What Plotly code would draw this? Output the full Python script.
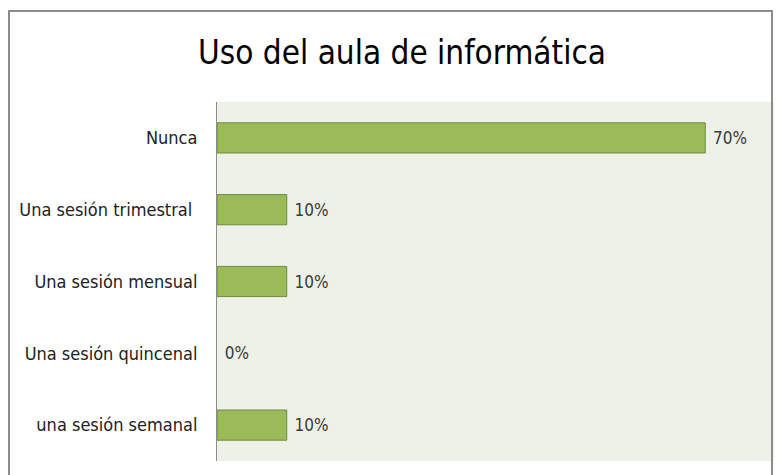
import plotly.graph_objects as go

categories = ["Nunca", "Una sesión trimestral ", "Una sesión mensual", "Una sesión quincenal", "una sesión semanal"]
values = [0.70, 0.10, 0.10, 0.00, 0.10]
labels = ["70%", "10%", "10%", "0%", "10%"]

FONT = "DejaVu Sans Condensed, Liberation Sans Narrow, Open Sans, sans-serif"

# The page body has an 8px default margin; the figure is sized to fit the window.
W, H = 774, 467
L, R, T, B = 209, 7, 94, 14
pw, ph = W - L - R, H - T - B

fig = go.Figure(go.Bar(
    y=categories, x=values, orientation="h",
    marker=dict(color="#9BBB59",
                line=dict(color="#71893F", width=[1 if v > 0 else 0 for v in values])),
    text=labels, texttemplate=" %{text}", textposition="outside", cliponaxis=False,
    textfont=dict(family=FONT, size=17, color="#3A3A3A"),
    width=0.42,
))

fig.update_layout(
    width=W, height=H,
    margin=dict(l=L, r=R, t=T, b=B),
    paper_bgcolor="white", plot_bgcolor="#EEF1E8",
    title=dict(text="Uso del aula de informática", x=(402 - 8) / W, xanchor="center",
               y=1 - (52 - 8) / H, yanchor="middle",
               font=dict(family=FONT, size=33, color="black")),
    showlegend=False,
    xaxis=dict(range=[0, 0.8], showgrid=False, showticklabels=False, zeroline=False,
               showline=False, ticks=""),
    yaxis=dict(categoryorder="array", categoryarray=categories[::-1], showgrid=False,
               showline=True, linecolor="#8C8C8C", linewidth=1, ticks="",
               ticklabelstandoff=15,
               tickfont=dict(family=FONT, size=18, color="#222222")),
    shapes=[dict(type="rect", xref="paper", yref="paper",
                 x0=-(L - 1) / pw, x1=(772 - 8 - L) / pw,
                 y0=-(B + 20) / ph, y1=1 + (T - 3) / ph,
                 line=dict(color="#8C8C8C", width=2), layer="below")],
)

fig.write_html("out.html")
